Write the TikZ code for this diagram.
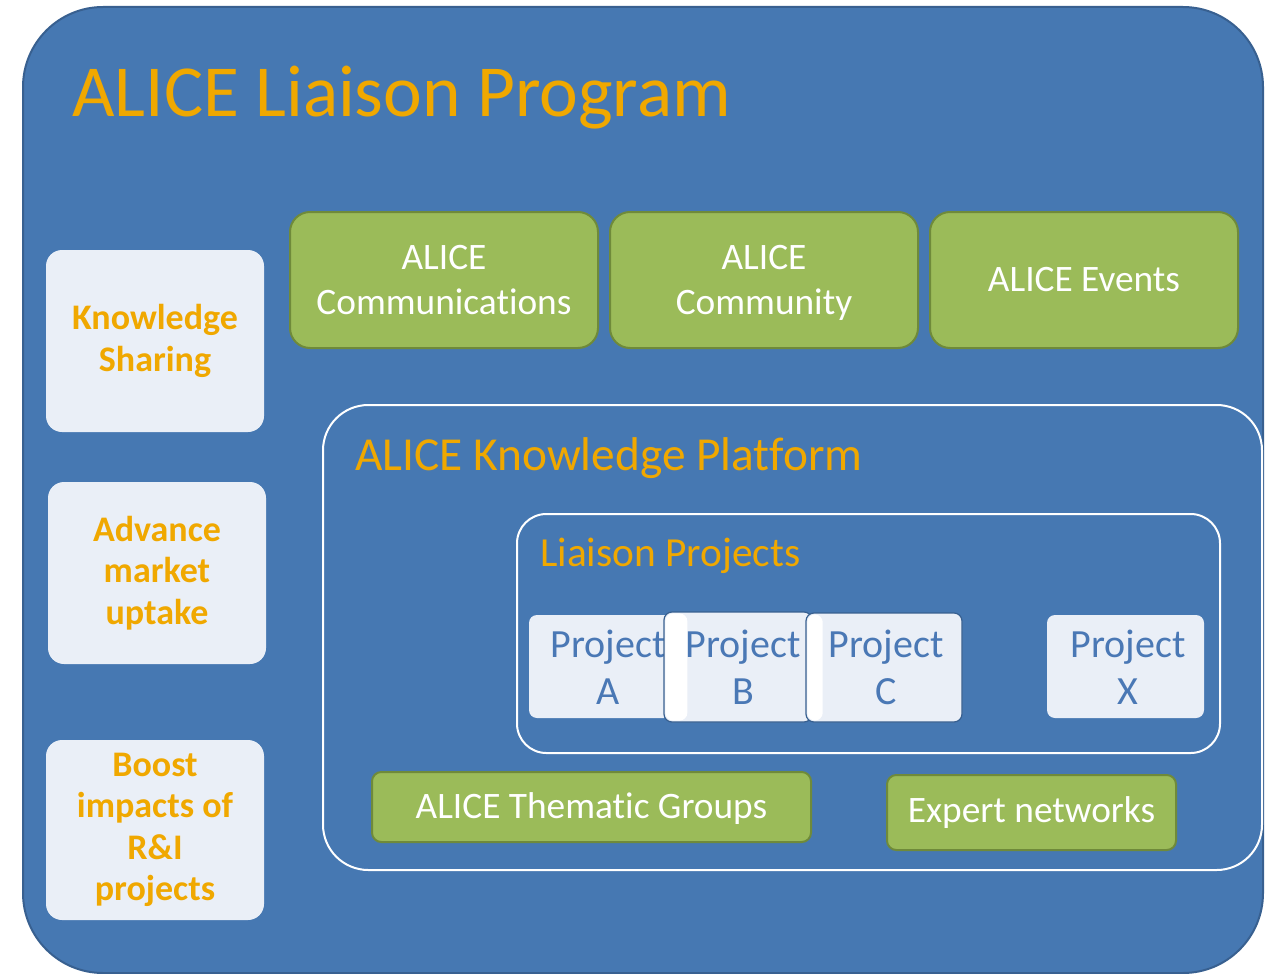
\documentclass[tikz,border=0pt]{standalone}
\usepackage{fontspec}
\setmainfont{Carlito}[Ligatures=NoCommon]
\begin{document}
\definecolor{mainblue}{RGB}{70,120,178}
\definecolor{darkblue}{RGB}{56,96,144}
\definecolor{leafgreen}{RGB}{155,187,89}
\definecolor{darkgreen}{RGB}{111,138,58}
\definecolor{paleblue}{RGB}{234,239,247}
\definecolor{gold}{RGB}{240,168,0}
\definecolor{projblue}{RGB}{74,120,181}
\begin{tikzpicture}[x=0.75pt,y=-0.75pt,
  mainbox/.style={draw=darkblue,line width=1.5pt,fill=mainblue,rounded corners=60pt,rectangle,inner sep=0pt},
  sidebox/.style={fill=paleblue,rounded corners=12pt,rectangle,inner sep=0pt,minimum width=163.5pt,minimum height=136.5pt,
     text=gold,font=\bfseries\fontsize{27pt}{31pt}\selectfont,align=center},
  greenbox/.style={draw=darkgreen,line width=1.5pt,fill=leafgreen,rectangle,inner sep=0pt,text=white,
     font=\fontsize{28pt}{34pt}\selectfont,align=center},
  greentext/.style={text=white,font=\fontsize{28pt}{34pt}\selectfont,align=center,inner sep=0pt},
  frame/.style={draw=white,line width=1.5pt,rectangle,inner sep=0pt},
  heading/.style={text=gold,inner sep=0pt,anchor=base west},
  projbox/.style={fill=paleblue,rectangle,rounded corners=6pt,inner sep=0pt},
  projtext/.style={text=projblue,font=\fontsize{30pt}{35pt}\selectfont,align=center,inner sep=0pt},
  edged/.style={draw=darkblue,line width=0.9pt},
  shine/.style={fill=white,rounded corners=6pt,draw=none}
]
\useasboundingbox (0,0) rectangle (1268,974);
% main container
\node[mainbox,minimum width=930pt,minimum height=724.5pt] (main) at (643,490) {};
\node[heading,font=\fontsize{55pt}{66pt}\selectfont] (title) at (72,117) {ALICE Liaison Program};
% left side boxes
\node[sidebox] (ks) at (155,341) {Knowledge\\Sharing};
\node[sidebox] (amu) at (157,573) {Advance\\market\\uptake};
\node[sidebox,minimum height=135pt] (boost) at (155,830) {Boost\\impacts of\\R\&I\\projects};
% top green boxes
\node[greenbox,rounded corners=15pt,minimum width=231pt,minimum height=102pt] (comm) at (444,280) {ALICE\\Communications};
\node[greenbox,rounded corners=15pt,minimum width=231pt,minimum height=102pt] (cmty) at (764,280) {};
\node[greentext] (cmtyt) at (764,283) {ALICE\\Community};
\node[greenbox,rounded corners=15pt,minimum width=231pt,minimum height=102pt] (evts) at (1084,280) {ALICE Events};
% knowledge platform
\node[frame,rounded corners=34pt,minimum width=704.25pt,minimum height=348.75pt] (kp) at (792.5,637.5) {};
\node[heading,font=\fontsize{35.5pt}{42pt}\selectfont] (kptitle) at (355,470) {ALICE Knowledge Platform};
% liaison projects
\node[frame,rounded corners=22pt,minimum width=527.25pt,minimum height=179.25pt] (lp) at (868.5,633.5) {};
\node[heading,font=\fontsize{31pt}{37pt}\selectfont] (lptitle) at (540,566) {Liaison Projects};
% projects
\node[projbox,minimum width=107.25pt,minimum height=77.25pt] (pa) at (600.5,666.5) {};
\node[projtext] (pat) at (608,667) {Project\\A};
\node[projbox,edged,minimum width=111pt,minimum height=82.5pt] (pb) at (738,667) {};
\fill[shine] ([xshift=1.5pt,yshift=-1.5pt]pb.north west) rectangle ([xshift=18pt,yshift=1.5pt]pb.south west);
\node[projtext] (pbt) at (743,667) {Project\\B};
\node[projbox,edged,minimum width=117pt,minimum height=81.75pt] (pc) at (884,667.5) {};
\fill[shine] ([xshift=1.5pt,yshift=-1.5pt]pc.north west) rectangle ([xshift=13pt,yshift=1.5pt]pc.south west);
\node[projtext] (pct) at (886,667.5) {Project\\C};
\node[projbox,minimum width=117.75pt,minimum height=77.25pt] (px) at (1125.5,666.5) {};
\node[projtext] (pxt) at (1128,667) {Project\\X};
% bottom green boxes
\node[greenbox,rounded corners=7pt,minimum width=329.25pt,minimum height=52.5pt] (tg) at (591.5,807) {};
\node[greentext] (tgt) at (591.5,809) {ALICE Thematic Groups};
\node[greenbox,rounded corners=7pt,minimum width=216.75pt,minimum height=56.25pt] (en) at (1031.5,812.5) {Expert networks};
\end{tikzpicture}
\end{document}
